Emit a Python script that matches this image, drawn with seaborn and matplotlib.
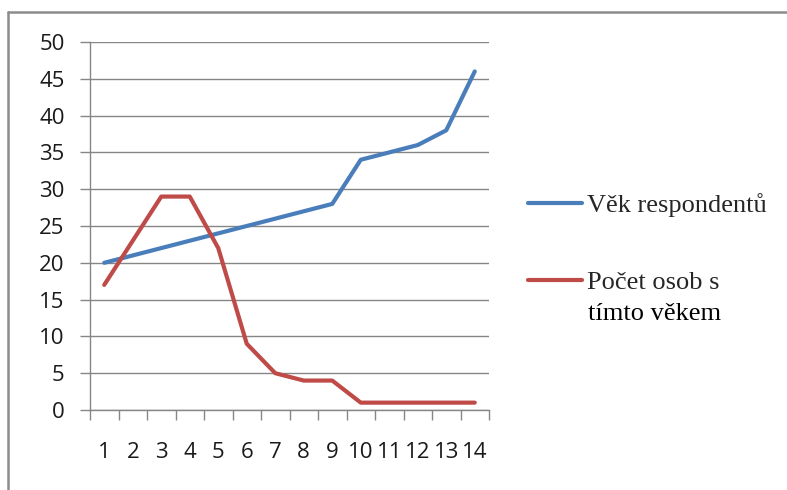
import matplotlib
matplotlib.use("Agg")
import matplotlib.pyplot as plt
from matplotlib.lines import Line2D
import numpy as np
import pandas as pd
import seaborn as sns

# Data
categories = list(range(1, 15))
vek_respondentu = [20, 21, 22, 23, 24, 25, 26, 27, 28, 34, 35, 36, 38, 46]
pocet_osob = [17, 23, 29, 29, 22, 9, 5, 4, 4, 1, 1, 1, 1, 1]
series_names = ["Věk respondentů", "Počet osob s"]
series_colors = ["#4A7EBB", "#BE4B48"]
y_ticks = list(range(0, 51, 5))

df = pd.DataFrame({
    "kategorie": categories * 2,
    "hodnota": vek_respondentu + pocet_osob,
    "serie": [series_names[0]] * len(categories) + [series_names[1]] * len(categories),
})

sns.set_theme(style="white")
plt.rcParams["font.family"] = ["Open Sans", "DejaVu Sans"]

W, H = 787, 490
fig = plt.figure(figsize=(W / 100, H / 100), dpi=100)
ax = fig.add_axes([90 / W, 80 / H, (489 - 90) / W, (410 - 42) / H])

grid_c = "#868686"
sns.lineplot(data=df, x="kategorie", y="hodnota", hue="serie",
             palette=series_colors, linewidth=3.0, ax=ax, legend=False,
             solid_capstyle="round", solid_joinstyle="round")

ax.set_xlim(0.5, 14.5)
ax.set_ylim(0, 50)
ax.set_yticks(y_ticks)
ax.set_yticklabels([str(v) for v in y_ticks])
ax.set_xticks(categories)
ax.set_xticklabels([str(c) for c in categories])
ax.set_xticks(np.arange(0.5, 15, 1.0), minor=True)
ax.set_xlabel("")
ax.set_ylabel("")

ax.yaxis.grid(True, color=grid_c, linewidth=1.0)
ax.xaxis.grid(False)
ax.set_axisbelow(True)
for s in ["top", "right"]:
    ax.spines[s].set_visible(False)
for s in ["left", "bottom"]:
    ax.spines[s].set_color(grid_c)
    ax.spines[s].set_linewidth(1.0)

ax.tick_params(axis="y", which="major", direction="out", length=7.2, width=1.0,
               color=grid_c, pad=11, labelsize=16, labelcolor="#1a1a1a", left=True)
ax.tick_params(axis="x", which="major", length=0, pad=23, labelsize=16,
               labelcolor="#1a1a1a", bottom=True)
ax.tick_params(axis="x", which="minor", direction="out", length=7.2, width=1.0,
               color=grid_c, bottom=True)

# Legend
handles = [Line2D([], [], color=c, linewidth=3.0, solid_capstyle="round") for c in series_colors]
leg = fig.legend(handles, series_names, loc="upper left",
                 bbox_to_anchor=(528 / W, 1 - 193 / H), frameon=False,
                 prop={"family": "Liberation Serif", "size": 19},
                 handlelength=2.05, handletextpad=0.2, labelspacing=2.03,
                 borderpad=0, borderaxespad=0)
fig.text(588 / W, 1 - 320 / H, "tímto věkem", family="Liberation Serif", fontsize=19,
         va="baseline", ha="left", color="black")

# Outer frame (top and left edges)
frame_c = "#8c8c8c"
fig.add_artist(Line2D([8 / W, 1.0], [1 - 12 / H, 1 - 12 / H], transform=fig.transFigure,
                      color=frame_c, linewidth=1.8))
fig.add_artist(Line2D([8 / W, 8 / W], [0, 1 - 12 / H], transform=fig.transFigure,
                      color=frame_c, linewidth=1.8))

fig.savefig("out.png", dpi=100, facecolor="white")
